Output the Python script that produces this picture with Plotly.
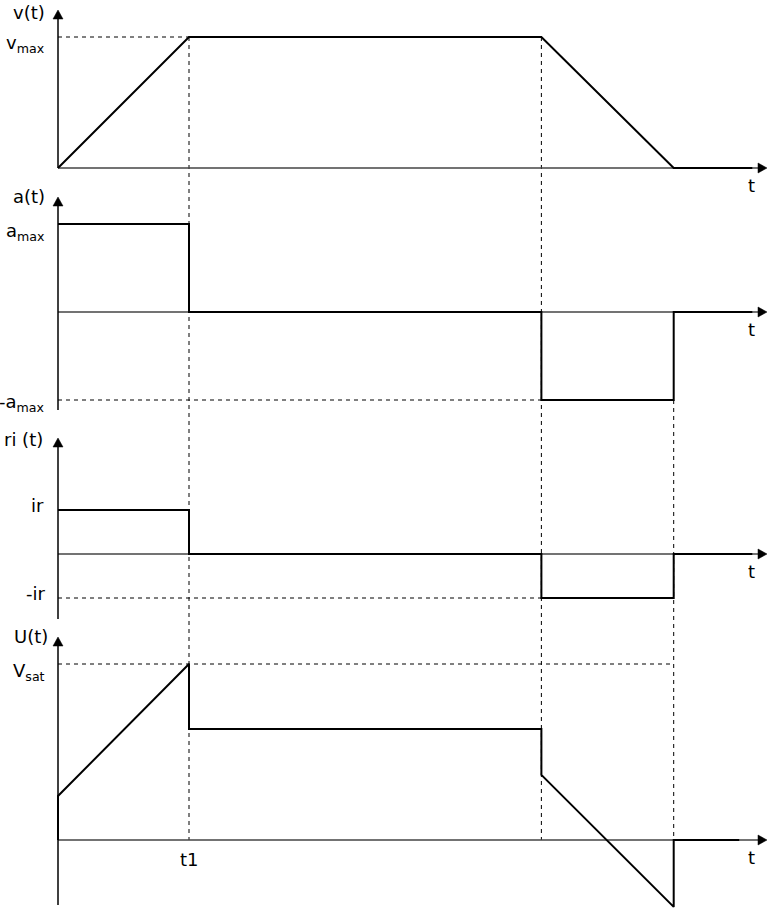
import plotly.graph_objects as go

# ---------------- data ----------------
t1, t2, t3 = 1.0, 3.69, 4.70
t_end, t_end_u = 5.30, 5.20

v_t = [0, t1, t2, t3, t_end]
v_vals = [0, 1, 1, 0, 0]

a_t = [0, t1, t1, t2, t2, t3, t3, t_end]
a_vals = [1, 1, 0, 0, -1, -1, 0, 0]

ri_t = [0, t1, t1, t2, t2, t3, t3, t_end]
ri_vals = [1, 1, 0, 0, -1, -1, 0, 0]

u_t = [0, 0, t1, t1, t2, t2, t3, t3, t_end_u]
u_vals = [0, 0.25, 1.0, 0.63, 0.63, 0.37, -0.38, 0, 0]

vmax, amax, ir, vsat = 1, 1, 1, 1

# ---------------- layout helpers ----------------
W, H = 768, 909
X0_PX, T_PX = 58, 131
FONT = "DejaVu Sans"


def yrange(zero_px, unit_px):
    return [-(H - zero_px) / unit_px, zero_px / unit_px]


r_v = yrange(168, 131)
r_a = yrange(312, 88)
r_ri = yrange(554, 44)
r_u = yrange(840, 176)


def to_paper(rng, val):
    return (val - rng[0]) / (rng[1] - rng[0])


def px_paper(px):
    return 1 - px / H


def px_xpaper(px):
    return px / W


x_range = [-X0_PX / T_PX, (W - X0_PX) / T_PX]
x_tip = (767 - X0_PX) / T_PX

fig = go.Figure()
line_style = dict(color="black", width=2)
fig.add_trace(go.Scatter(x=v_t, y=v_vals, mode="lines", line=line_style, yaxis="y", hoverinfo="skip"))
fig.add_trace(go.Scatter(x=a_t, y=a_vals, mode="lines", line=line_style, yaxis="y2", hoverinfo="skip"))
fig.add_trace(go.Scatter(x=ri_t, y=ri_vals, mode="lines", line=line_style, yaxis="y3", hoverinfo="skip"))
fig.add_trace(go.Scatter(x=u_t, y=u_vals, mode="lines", line=line_style, yaxis="y4", hoverinfo="skip"))

shapes = []
dash = dict(color="black", width=1, dash="4px,4px")
# horizontal dashed reference levels
shapes.append(dict(type="line", xref="x", yref="y", x0=0, x1=t1, y0=vmax, y1=vmax, line=dash, layer="below"))
shapes.append(dict(type="line", xref="x", yref="y2", x0=0, x1=t2, y0=-amax, y1=-amax, line=dash, layer="below"))
shapes.append(dict(type="line", xref="x", yref="y3", x0=0, x1=t2, y0=-ir, y1=-ir, line=dash, layer="below"))
shapes.append(dict(type="line", xref="x", yref="y4", x0=0, x1=t3, y0=vsat, y1=vsat, line=dash, layer="below"))
# vertical dashed time markers
u_zero_p = to_paper(r_u, 0)
for tx, ytop in [(t1, to_paper(r_v, vmax)), (t2, to_paper(r_v, vmax)), (t3, to_paper(r_a, -amax))]:
    shapes.append(dict(type="line", xref="x", yref="paper", x0=tx, x1=tx, y0=ytop, y1=u_zero_p, line=dash, layer="below"))

arrow_fill = dict(fillcolor="black", line=dict(color="black", width=0.5))
# zero (time) axes with arrowheads
for yref in ["y", "y2", "y3", "y4"]:
    shapes.append(dict(type="line", xref="x", yref=yref, x0=0, x1=x_tip - 0.03, y0=0, y1=0,
                       line=dict(color="#444", width=1.3), layer="below"))
    shapes.append(dict(type="path", xref="x", yref=yref, xsizemode="pixel", ysizemode="pixel",
                       xanchor=x_tip, yanchor=0, path="M 0 0 L -9 5 L -9 -5 Z", **arrow_fill))

# vertical axes with arrowheads
for tip_px, bot_px in [(10, 168), (197, 410), (438, 619), (637, 905)]:
    shapes.append(dict(type="line", xref="x", yref="paper", x0=0, x1=0, y0=px_paper(bot_px),
                       y1=px_paper(tip_px + 4), line=dict(color="black", width=1.5)))
    shapes.append(dict(type="path", xref="x", yref="paper", xsizemode="pixel", ysizemode="pixel",
                       xanchor=0, yanchor=px_paper(tip_px), path="M 0 0 L -5 -9 L 5 -9 Z", **arrow_fill))

annotations = []
lab_font = dict(family=FONT, size=18, color="black")
for yref in ["y", "y2", "y3", "y4"]:
    annotations.append(dict(x=px_xpaper(757), y=0, xref="paper", yref=yref, yshift=-17, text="t",
                            showarrow=False, font=lab_font))

# panel titles
for txt, xr, ypx in [("v(t)", 47, 12), ("a(t)", 47, 196), ("ri (t)", 45, 439), ("U(t)", 50, 636)]:
    annotations.append(dict(x=px_xpaper(xr), y=px_paper(ypx), xref="paper", yref="paper", xanchor="right",
                            yanchor="middle", text=txt, showarrow=False, font=lab_font))

# level labels
for txt, yref, val, xr, shift in [
    ("v<sub>max</sub>", "y", vmax, 47, -7),
    ("a<sub>max</sub>", "y2", amax, 47, -8),
    ("-a<sub>max</sub>", "y2", -amax, 47, -3),
    ("ir", "y3", ir, 46, 5),
    ("-ir", "y3", -ir, 47, 5),
    ("V<sub>sat</sub>", "y4", vsat, 47, -8),
]:
    annotations.append(dict(x=px_xpaper(xr), y=val, xref="paper", yref=yref, xanchor="right", yanchor="middle",
                            yshift=shift, text=txt, showarrow=False, font=lab_font))

annotations.append(dict(x=t1, y=0, xref="x", yref="y4", yshift=-19, text="t1", showarrow=False,
                        font=lab_font))

hidden = dict(visible=False, showgrid=False, zeroline=False, fixedrange=True)
fig.update_layout(
    width=W, height=H,
    margin=dict(l=0, r=0, t=0, b=0),
    paper_bgcolor="white", plot_bgcolor="white",
    showlegend=False,
    xaxis=dict(range=x_range, **hidden),
    yaxis=dict(range=r_v, domain=[0, 1], **hidden),
    yaxis2=dict(range=r_a, overlaying="y", **hidden),
    yaxis3=dict(range=r_ri, overlaying="y", **hidden),
    yaxis4=dict(range=r_u, overlaying="y", **hidden),
    shapes=shapes,
    annotations=annotations,
)

fig.write_html(
    "out.html",
    config={"displayModeBar": False},
    post_script="document.body.style.margin='0';document.body.style.overflow='hidden';",
)
